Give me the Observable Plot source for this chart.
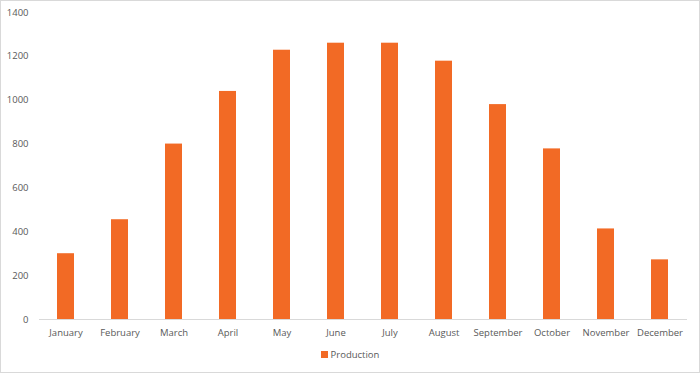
<!DOCTYPE html>
<html>
<head>
<meta charset="utf-8">
<script src="https://cdn.jsdelivr.net/npm/d3@7"></script>
<script src="https://cdn.jsdelivr.net/npm/@observablehq/plot@0.6"></script>
<style>
  html, body { margin: 0; padding: 0; background: #fff; }
  #chart { position: relative; width: 700px; height: 373px; box-sizing: border-box; border: 1px solid #d9d9d9; background: #fff; overflow: hidden; }
  #plot { position: absolute; left: 0; top: 0; }
  #legend { position: absolute; left: 0; right: 0; top: 347px; text-align: center; font-family: "Open Sans", sans-serif; font-size: 9.5px; color: #595959; }
  #legend .sw { display: inline-block; width: 7px; height: 7px; background: #F26A25; margin-right: 3px; vertical-align: 0px; }
</style>
</head>
<body>
<div id="chart">
  <div id="plot"></div>
  <div id="legend"><span class="sw"></span>Production</div>
</div>
<script>
const months = ["January","February","March","April","May","June","July","August","September","October","November","December"];
const production = [300, 455, 800, 1040, 1228, 1260, 1260, 1178, 980, 778, 413, 272];
const yTicks = [0, 200, 400, 600, 800, 1000, 1200, 1400];
const seriesName = "Production";

const data = months.map((m, i) => ({month: m, value: production[i]}));

const chart = Plot.plot({
  width: 698,
  height: 340,
  marginTop: 11,
  marginBottom: 22,
  marginLeft: 38,
  marginRight: 12,
  style: {fontFamily: "'Open Sans', sans-serif", fontSize: "9.5px", color: "#595959", background: "transparent"},
  x: {domain: months, label: null, paddingInner: 0.68, paddingOuter: 0.34, align: 0.5, tickSize: 0, tickPadding: 10},
  y: {domain: [0, 1400], ticks: yTicks, tickFormat: d => String(d), label: null, tickSize: 0, tickPadding: 11},
  marks: [
    Plot.barY(data, {x: "month", y: "value", fill: "#F26A25", title: d => `${seriesName}: ${d.value}`}),
    Plot.ruleY([0], {stroke: "#d9d9d9", strokeWidth: 1})
  ]
});
document.getElementById("plot").appendChild(chart);
</script>
</body>
</html>
